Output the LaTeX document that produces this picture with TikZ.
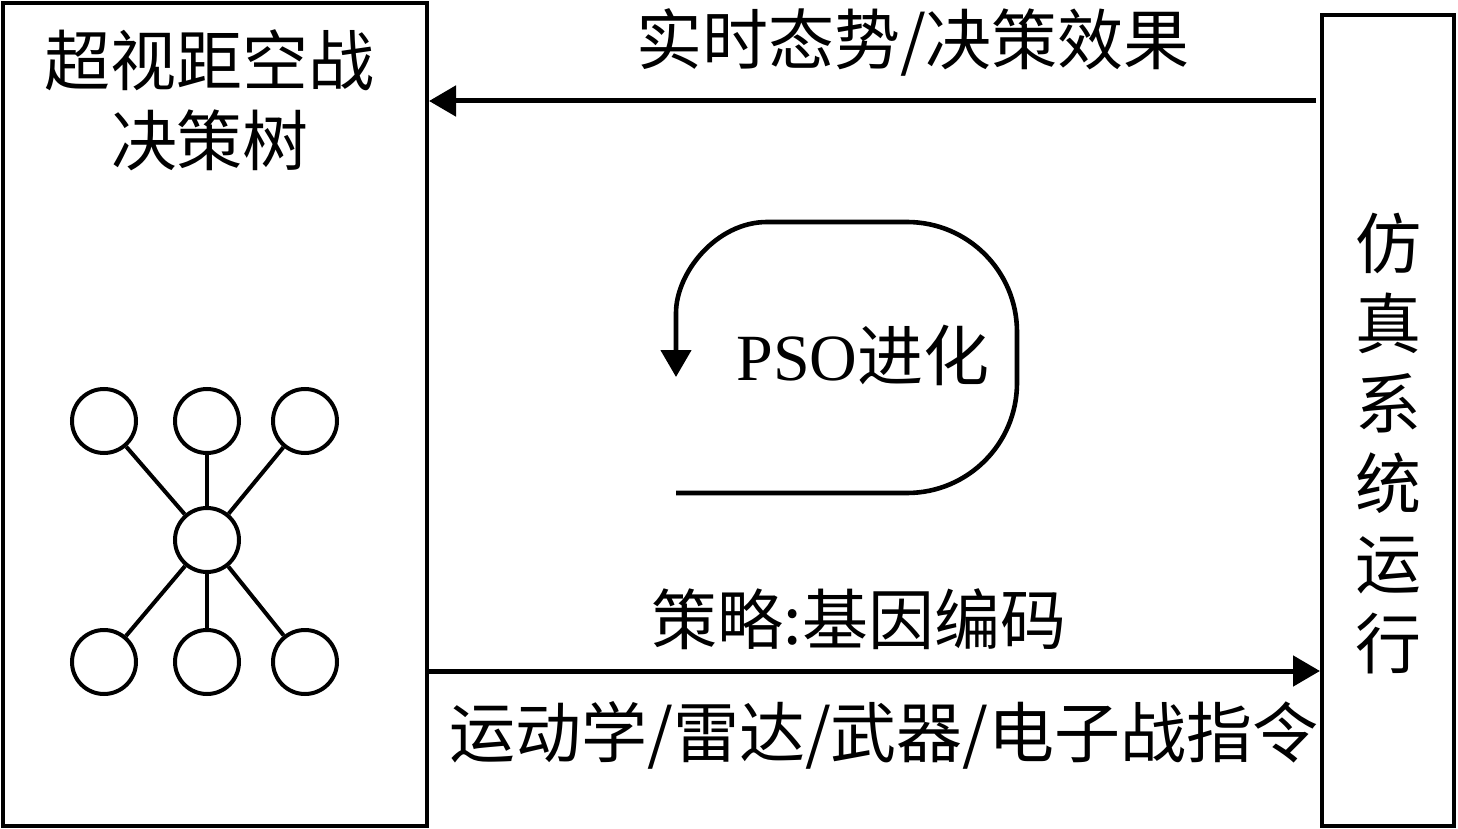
\documentclass[tikz,border=0pt]{standalone}
\usepackage{fontspec}
\setmainfont{Noto Sans CJK SC}
\newfontfamily\latfont{Liberation Serif}
\usetikzlibrary{arrows.meta}
\begin{document}
\begin{tikzpicture}[x=0.5pt,y=-0.5pt,
  box/.style={draw,line width=2pt,rectangle,inner sep=0pt},
  leaf/.style={draw,line width=2pt,circle,minimum size=32pt,inner sep=0pt},
  edge/.style={line width=2pt},
  arr/.style={line width=2.5pt,-{Triangle[length=13.5pt,width=15pt]}},
  lbl/.style={font=\fontsize{33pt}{40pt}\selectfont,inner sep=0pt,align=center}]
\useasboundingbox (0,0) rectangle (1458,829);
% boxes
\node[box,minimum width=212pt,minimum height=411.5pt] (L) at (215,414.5) {};
\node[box,minimum width=66pt,minimum height=405.5pt] (R) at (1388,420.5) {};
% box titles
\node[lbl] (Ltitle) at (210,100) {超视距空战\\决策树};
\node[lbl] (Rtitle) at (1388,444) {仿\\真\\系\\统\\运\\行};
% tree
\node[leaf] (t1) at (104,421) {};
\node[leaf] (t2) at (207,421) {};
\node[leaf] (t3) at (305,421) {};
\node[leaf] (c) at (207,540) {};
\node[leaf] (b1) at (104,662) {};
\node[leaf] (b2) at (207,662) {};
\node[leaf] (b3) at (305,662) {};
\foreach \n in {t1,t2,t3,b1,b2,b3} \draw[edge] (c) -- (\n);
% arrows
\coordinate (yA) at (0,101);
\coordinate (yB) at (0,671);
\draw[arr] ([xshift=-2pt]R.west |- yA) -- (L.east |- yA);
\draw[arr] (L.east |- yB) -- (R.west |- yB);
\node[lbl] (topl) at (913,42) {实时态势/决策效果};
\node[lbl] (midl) at (859,619) {策略:基因编码};
\node[lbl] (botl) at (884,735) {运动学/雷达/武器/电子战指令};
% PSO loop
\node[lbl] (pso) at (863,355) {{\latfont PSO}进化};
\coordinate (ls) at (676,493);
\coordinate (le) at (676,377);
\draw[line width=2.3pt,-{Triangle[length=13.5pt,width=15pt]}]
  (ls) -- (907,493)
  .. controls (967.8,493) and (1017,443.8) .. (1017,383)
  -- (1017,332)
  .. controls (1017,271.2) and (967.8,222) .. (907,222)
  -- (767,222)
  .. controls (716.7,222) and (676,272.3) .. (676,313)
  -- (le);
\end{tikzpicture}
\end{document}
